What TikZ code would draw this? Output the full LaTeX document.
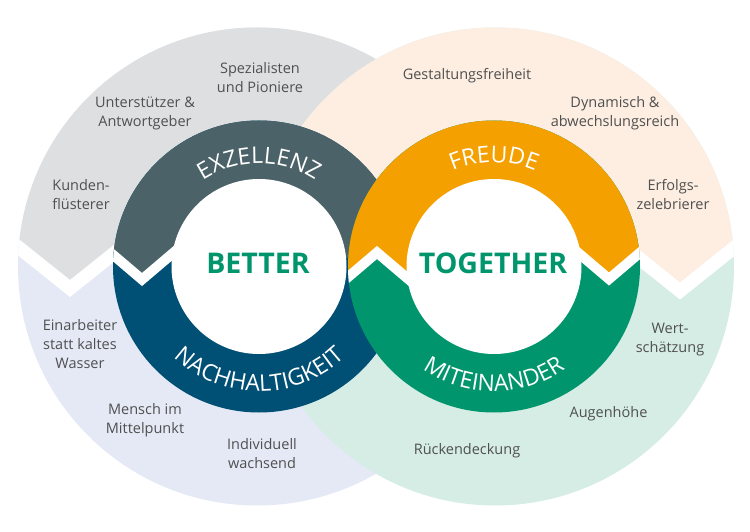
\documentclass[tikz,border=0pt]{standalone}
\usepackage{fontspec}
\setmainfont{Open Sans}
\usetikzlibrary{decorations.text}
\definecolor{cgray}{HTML}{DEDFE1}
\definecolor{cpeach}{HTML}{FDEEE1}
\definecolor{clav}{HTML}{E4E9F5}
\definecolor{cmint}{HTML}{D6EDE6}
\definecolor{cslate}{HTML}{4B6268}
\definecolor{cblue}{HTML}{004F74}
\definecolor{corange}{HTML}{F4A000}
\definecolor{cgreen}{HTML}{00956C}
\definecolor{ctext}{HTML}{505050}
\newcommand{\ringfont}{\fontsize{23}{23}\selectfont}
\begin{document}
\begin{tikzpicture}[x=1pt,y=1pt,
  lbl/.style={align=center, text=ctext, font=\fontsize{14.5}{19}\selectfont, inner sep=0pt},
  ctr/.style={text=cgreen, font=\fontsize{28.5}{28.5}\selectfont\bfseries, inner sep=0pt},
  band/.style={white, line width=13.3pt, line join=miter},
  rband/.style={white, line width=10pt, line join=miter},
  ringtext/.style={decorate, decoration={text along path, text align=center, text color=white, text={|\ringfont|#1}}}]
\useasboundingbox (0,0) rectangle (750,531);
% left big circle
\fill[clav] (257,264.5) circle[radius=239];
\begin{scope}
  \clip (257,264.5) circle[radius=239];
  \fill[cgray] (-30,322.5) -- (70,242.5) -- (140,298.5) -- (520,264.5) -- (520,531) -- (-30,531) -- cycle;
  \draw[band] (-30,322.5) -- (70,242.5) -- (140,298.5);
\end{scope}
% right big circle
\fill[cmint] (495,264.5) circle[radius=239];
\begin{scope}
  \clip (495,264.5) circle[radius=239];
  \fill[cpeach] (780,320) -- (680,240) -- (610,296) -- (230,264.5) -- (230,531) -- (780,531) -- cycle;
  \draw[band] (780,320) -- (680,240) -- (610,296);
\end{scope}
% left ring
\fill[cblue] (259,264.5) circle[radius=146];
\begin{scope}
  \clip (259,264.5) circle[radius=146];
  \fill[cslate] (90,295.7) -- (142,251.5) -- (190,292.3) -- (420,264.5) -- (420,420) -- (90,420) -- cycle;
  \draw[rband] (90,295.7) -- (142,251.5) -- (190,292.3);
\end{scope}
\fill[white] (259,264.5) circle[radius=87.5];
% right ring
\fill[cgreen] (494,264.5) circle[radius=146];
\begin{scope}
  \clip (494,264.5) circle[radius=146];
  \fill[corange] (330,238.55) -- (377,278.5) -- (425,237.7) -- (570,285.15) -- (609,252) -- (660,295.35) -- (660,420) -- (330,420) -- cycle;
  \draw[rband] (330,238.55) -- (377,278.5) -- (425,237.7);
  \draw[rband] (570,285.15) -- (609,252) -- (660,295.35);
\end{scope}
\fill[white] (494,264.5) circle[radius=87.5];
% ring labels
\path[ringtext=EXZELLENZ] (156,264.5) arc[start angle=180, end angle=0, radius=103];
\path[ringtext=NACHHALTIGKEIT] (134,264.5) arc[start angle=180, end angle=360, radius=125];
\path[ringtext=FREUDE] (390,264.5) arc[start angle=180, end angle=0, radius=104];
\path[ringtext=MITEINANDER] (369,264.5) arc[start angle=180, end angle=360, radius=125];
% centre words
\node[ctr] (better) at (258,268) {BETTER};
\node[ctr] (together) at (493,268) {TOGETHER};
% outer labels
\node[lbl] (spez) at (260,453) {Spezialisten\\und Pioniere};
\node[lbl] (unter) at (145,418) {Unterstützer \&\\Antwortgeber};
\node[lbl] (kunden) at (81,336.5) {Kunden-\\flüsterer};
\node[lbl] (gest) at (467,455) {Gestaltungsfreiheit};
\node[lbl] (dyn) at (615,418) {Dynamisch \&\\abwechslungsreich};
\node[lbl] (erfolg) at (673,336.5) {Erfolgs-\\zelebrierer};
\node[lbl] (wert) at (670,191) {Wert-\\schätzung};
\node[lbl] (einarb) at (80,187) {Einarbeiter\\statt kaltes\\Wasser};
\node[lbl] (mensch) at (145,110.5) {Mensch im\\Mittelpunkt};
\node[lbl] (indiv) at (262,77.5) {Individuell\\wachsend};
\node[lbl] (augen) at (608.5,117) {Augenhöhe};
\node[lbl] (rueck) at (467,80) {Rückendeckung};
\end{tikzpicture}
\end{document}
